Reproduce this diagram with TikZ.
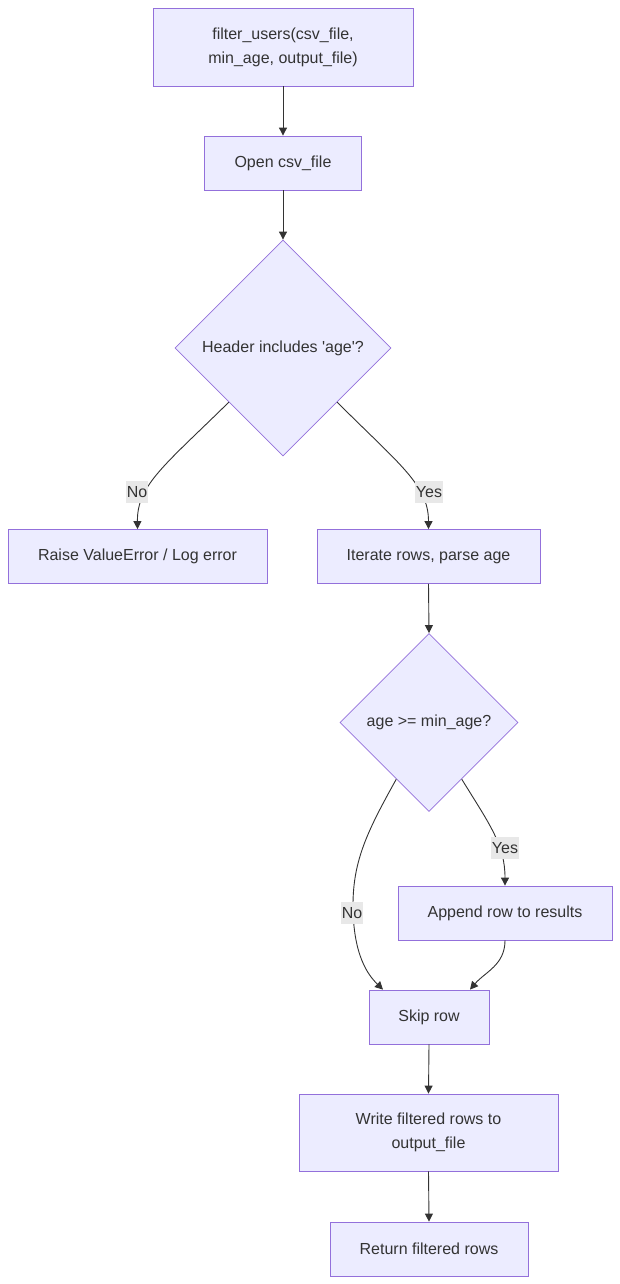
\documentclass[tikz,border=0pt]{standalone}
\usepackage{fontspec}
\setmainfont{Liberation Sans}
\usetikzlibrary{arrows.meta,shapes.geometric}
\definecolor{nodefill}{HTML}{ECECFF}
\definecolor{nodeline}{HTML}{9370DB}
\definecolor{edgecol}{HTML}{333333}
\definecolor{lblbg}{HTML}{E8E8E8}
\tikzset{
  box/.style={draw=nodeline, fill=nodefill, line width=0.8pt, text=edgecol,
    font=\fontsize{16}{24}\selectfont, align=center, inner sep=0pt},
  dia/.style={draw=nodeline, fill=nodefill, line width=0.8pt, diamond, aspect=1,
    inner sep=0pt, label={[text=edgecol, font=\fontsize{16}{24}\selectfont]center:#1}},
  edge/.style={draw=edgecol, line width=0.9pt, -{Triangle[length=8pt,width=8pt]}},
  elbl/.style={fill=lblbg, text=edgecol, font=\fontsize{16}{20}\selectfont,
    inner sep=1pt, minimum height=22pt}
}
\begin{document}
\begin{tikzpicture}[x=1pt, y=-1pt]
\useasboundingbox (0,0) rectangle (620,1284);
% nodes
\node[box, minimum width=260pt, minimum height=78pt] (A) at (283,47) {filter\_users(csv\_file,\\min\_age, output\_file)};
\node[box, minimum width=157pt, minimum height=54pt] (B) at (283,163) {Open csv\_file};
\node[dia={Header includes \textquotesingle age\textquotesingle ?}, minimum width=216pt, minimum height=216pt] (C) at (283,348) {};
\node[box, minimum width=259pt, minimum height=54pt] (D) at (137.5,556.5) {Raise ValueError / Log error};
\node[box, minimum width=223pt, minimum height=54pt] (E) at (428.5,556.5) {Iterate rows, parse age};
\node[dia={age >= min\_age?}, minimum width=178pt, minimum height=178pt] (F) at (429,722.5) {};
\node[box, minimum width=214pt, minimum height=54pt] (G) at (505,913) {Append row to results};
\node[box, minimum width=120pt, minimum height=54pt] (H) at (429,1017) {Skip row};
\node[box, minimum width=259pt, minimum height=77pt] (I) at (428.5,1132.5) {Write filtered rows to\\output\_file};
\node[box, minimum width=198pt, minimum height=54pt] (J) at (429,1249) {Return filtered rows};
% edges
\draw[edge] (A.south) -- (B.north);
\draw[edge] (B.south) -- (C.north);
\draw[edge] (C.south west) .. controls (165,465) and (137,485) .. (D.north);
\draw[edge] (C.south east) .. controls (400,465) and (428.5,485) .. (E.north);
\draw[edge] (E.south) -- (F.north);
\draw[edge] (F.240) .. controls (368,830) and (353,860) .. (353,905) .. controls (353,955) and (368,975) .. ([xshift=-46pt]H.north);
\draw[edge] (F.300) .. controls (490,825) and (505,845) .. (G.north);
\draw[edge] (G.south) .. controls (505,965) and (485,972) .. ([xshift=41pt]H.north);
\draw[edge] (H.south) -- (I.north);
\draw[edge] (I.south) -- (J.north);
% edge labels
\node[elbl] (l1) at (137,492) {No};
\node[elbl] (l2) at (429,492) {Yes};
\node[elbl] (l3) at (352,913) {No};
\node[elbl] (l4) at (505,848) {Yes};
\end{tikzpicture}
\end{document}
